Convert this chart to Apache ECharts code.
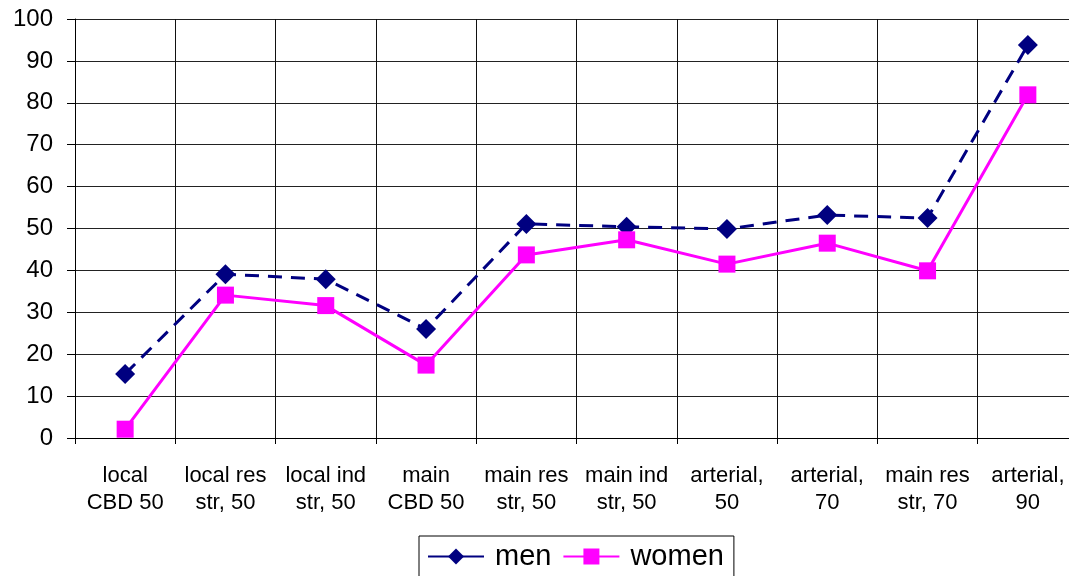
<!DOCTYPE html>
<html>
<head>
    <meta charset="utf-8">
    <script src="https://cdn.jsdelivr.net/npm/echarts@6/dist/echarts.min.js"></script>
</head>
<body style="margin:0;background:#fff;overflow:hidden;">
    <!-- the plot runs past the right edge of the window, as in the reference -->
    <div id="container" style="width:1082px;height:576px;"></div>
    <script type="text/javascript">
        // categories and values
        var categories = ['local\nCBD 50', 'local res\nstr, 50', 'local ind\nstr, 50', 'main\nCBD 50',
            'main res\nstr, 50', 'main ind\nstr, 50', 'arterial,\n50', 'arterial,\n70', 'main res\nstr, 70', 'arterial,\n90'];
        var menValues = [15.3, 39.1, 37.9, 26.0, 51.1, 50.4, 49.9, 53.2, 52.5, 93.8];
        var womenValues = [2.1, 34.1, 31.6, 17.4, 43.7, 47.3, 41.5, 46.5, 39.9, 81.9];

        var myChart = echarts.init(document.getElementById('container'));
        var fontFamily = 'Liberation Sans, Arial, sans-serif';

        var option = {
            animation: false,
            backgroundColor: '#fff',
            grid: { left: 75, top: 19, right: 4, bottom: 138 },
            legend: {
                data: [
                    { name: 'men', lineStyle: { type: 'solid' } },
                    { name: 'women' }
                ],
                left: 419,
                top: 536,
                borderColor: '#000',
                borderWidth: 1,
                padding: [6, 10, 12, 8],
                itemWidth: 56,
                itemHeight: 20,
                itemGap: 11,
                textStyle: { fontFamily: fontFamily, fontSize: 29, color: '#000', padding: [0, 0, 0, 6] }
            },
            xAxis: {
                type: 'category',
                data: categories,
                boundaryGap: true,
                axisLine: { lineStyle: { color: '#000', width: 1 } },
                axisTick: { show: true, length: 6, lineStyle: { color: '#000' } },
                splitLine: { show: true, lineStyle: { color: '#111', width: 1 } },
                axisLabel: {
                    interval: 0, margin: 24, color: '#000',
                    fontFamily: fontFamily, fontSize: 22, lineHeight: 27
                }
            },
            yAxis: {
                type: 'value',
                min: 0, max: 100, interval: 10,
                axisLine: { show: true, lineStyle: { color: '#000', width: 1 } },
                axisTick: { show: true, inside: false, length: 8, lineStyle: { color: '#000' } },
                splitLine: { show: true, lineStyle: { color: '#222', width: 1 } },
                axisLabel: { margin: 22, color: '#000', fontFamily: fontFamily, fontSize: 24 }
            },
            series: [
                {
                    name: 'men',
                    type: 'line',
                    data: menValues,
                    symbol: 'diamond',
                    symbolSize: 20,
                    itemStyle: { color: '#000080' },
                    lineStyle: { color: '#000080', width: 3, type: [14, 9] },
                    z: 3
                },
                {
                    name: 'women',
                    type: 'line',
                    data: womenValues,
                    symbol: 'rect',
                    symbolSize: 17,
                    itemStyle: { color: '#ff00ff' },
                    lineStyle: { color: '#ff00ff', width: 3 },
                    z: 4
                }
            ]
        };
        myChart.setOption(option);
    </script>
</body>
</html>
